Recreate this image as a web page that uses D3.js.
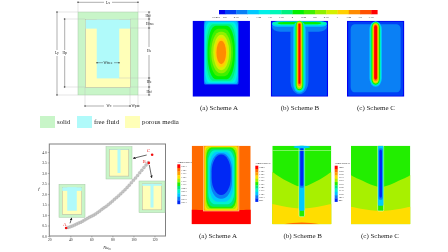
<!DOCTYPE html>
<html>
  <head>
    <meta charset="utf-8">
    <title>Schemes A, B and C</title>
    <script src="https://cdn.jsdelivr.net/npm/d3@7"></script>
    <style>
      html, body { margin: 0; padding: 0; background: #fff; overflow: hidden; }
      svg { display: block; filter: blur(.4px); }
      text { font-family: "Liberation Serif", serif; fill: #222; }
    </style>
  </head>

  <body>
    <div id="chart"></div>

    <script>
      // scatter data
      const curveNu = [38, 40, 42, 44, 46, 48, 50, 52, 54, 56, 58, 60, 62, 64, 66, 68, 70, 72, 74, 76, 78, 80, 82, 84, 86, 88, 90, 92, 94, 96, 98, 100, 102, 104, 106, 108, 110, 112, 114];
      const curveF = [.41, .44, .48, .52, .57, .62, .66, .71, .77, .83, .89, .94, .99, 1.05, 1.12, 1.19, 1.27, 1.34, 1.41, 1.49, 1.57, 1.66, 1.75, 1.83, 1.92, 2.01, 2.11, 2.2, 2.31, 2.42, 2.54, 2.65, 2.76, 2.88, 3.01, 3.13, 3.26, 3.38, 3.49];
      const schemeNames = ["A", "B", "C"];
      const schemeNu = [36, 114.6, 117.8];
      const schemeF = [.38, 3.48, 3.87];
      const nuTicks = [20, 40, 60, 80, 100, 120];
      const fTicks = [0, .5, 1, 1.5, 2, 2.5, 3, 3.5, 4];

      // colour bars
      const velocityTicks = [.5, .75, 1, 1.25, 1.5, 1.75, 2, 2.25, 2.5, 2.75, 3, 3.25, 3.5, 3.75];
      const velocityColours = ["#0000f0", "#0040f5", "#0a80f5", "#00c8ff", "#00f0e8", "#00f8b8", "#00f080", "#00f000", "#40f000", "#90f000", "#d4f000", "#ffd000", "#ff8c00", "#ff5000", "#ff0000"];
      const temperatureColours = ["#0028f5", "#0a7cf5", "#00c8ff", "#00f0d0", "#00e878", "#22ee00", "#a8f000", "#ffdd00", "#ffa000", "#ff6a00", "#ff0000"];
      const temperatureLabelsA = ["1213", "1193", "1173", "1153", "1133", "1113", "1093", "1073", "1053", "1033", "1013"];
      const temperatureLabelsB = ["1203", "1193", "1183", "1173", "1163", "1153", "1143", "1133", "1123", "1013", "997"];
      const temperatureLabelsC = ["1203", "1193", "1183", "1173", "1163", "1153", "1143", "1133", "1123", "1013", "997"];

      // contour bands, each [colour level, half width, top, bottom, rounding]
      const velocityBandsA = [[0, 28.7, 0, 76, 0], [2, 17.3, 0, 63.7, .05], [3, 16.8, .6, 63, .12], [4, 16.1, 1.5, 62, .25], [5, 15.4, 2.5, 61, .35], [6, 14.6, 3.5, 60, .45], [7, 13.6, 5, 58.5, .6], [8, 11.8, 8, 55.5, .75], [9, 10, 11, 52.5, .9], [10, 8, 14, 49.5, 1], [11, 6.2, 17, 46.5, 1], [12, 4.8, 20, 43.5, 1]];
      const velocityBandsB = [[0, 28.7, 0, 76, 0], [1, 27.5, 1, 75, .02], [2, 27.5, .8, 11, .3], [2, 9, 0, 73.5, 1], [3, 27.5, .8, 6, .2], [5, 27, .8, 4.5, .2], [7, 22, 1.2, 3.6, .3], [3, 6.2, 0, 72, 1], [5, 5, 0, 70.5, 1], [7, 3.8, 0, 69.5, 1], [9, 3, .5, 68.5, 1], [11, 2.2, 1.5, 67, 1], [12, 1.7, 2, 65.5, 1], [14, 1, 3, 63, .5]];
      const velocityBandsC = [[0, 28.7, 0, 76, 0], [1, 27.5, 1, 75, .03], [2, 25, 3.5, 71.5, .15], [3, 6.2, .5, 66, 1], [5, 5.2, 1, 65, 1], [7, 4.2, 1.5, 64, 1], [9, 3.4, 2, 63, 1], [11, 2.7, 3, 62, 1], [12, 2.1, 3.5, 60.5, 1], [14, 1.5, 4.5, 59, 1]];
      const temperatureBandsA = [[8, 17.7, 0, 65.3, 0], [7, 16.6, .5, 64.5, .1], [6, 15.8, 1.2, 63.5, .2], [5, 15, 1.8, 62.5, .35], [4, 14, 3, 61, .4], [3, 13, 4.5, 58.5, .5], [2, 12, 6, 56, .7], [1, 10.8, 7.5, 53, .9], [0, 9.5, 8.7, 49.3, 1]];
      const temperatureBandsB = [[5, 2.8, 0, 71, .4], [2, 2.6, 0, 65, .4], [1, 1.9, 1.5, 42, .4], [0, 1.5, 2, 40, .6]];
      const temperatureBandsC = [[5, 3, 0, 65.3, .3], [2, 2.7, 0, 60, .3], [1, 2, 2.5, 54, .6], [0, 1.3, 4, 52, 1]];

      // isotherms, each [x, y] across the panel
      const isothermRedA = [[-30, 64], [-15, 64.6], [0, 65.3], [15, 64.6], [30, 64]];
      const isothermTopB = [[-30, 26], [-22, 31.5], [-14, 36], [-6, 40], [0, 41.7], [6, 40], [14, 36], [22, 31.5], [30, 26]];
      const isothermLowB = [[-30, 58.3], [-20, 60.5], [-10, 62.2], [0, 63], [10, 62.2], [20, 60.5], [30, 58.3]];
      const isothermHotB = [[-18, 78.6], [-9, 77.3], [0, 76.6], [9, 77.3], [18, 78.6]];
      const isothermTopC = [[-30, 29.3], [-22, 33.5], [-14, 37], [-6, 40.4], [0, 41.7], [6, 40.4], [14, 37], [22, 33.5], [30, 29.3]];
      const isothermLowC = [[-30, 61], [-20, 63], [-10, 64.6], [0, 65.3], [10, 64.6], [20, 63], [30, 61]];

      // cavity layout, [wall, inner width, inner height, stem width, stem height, cap height]
      const layoutA = [7.5, 45, 68, 22, 59, 9];
      const layoutB = [7.5, 45, 68, 7, 62, 5];
      const layoutC = [7.5, 45, 68, 7, 60, 1];

      const legendNames = ["solid", "free fluid", "porous media"];
      const legendColours = ["#c8f5c8", "#b0fafa", "#ffffb8"];

      const svg = d3.select("#chart")
        .append("svg")
          .attr("width", 448)
          .attr("height", 252);

      function txt(x, y, label, size, anchor) {
        return svg.append("text")
          .attr("x", x)
          .attr("y", y)
          .attr("font-size", size)
          .attr("text-anchor", anchor || "middle")
          .text(label);
      }

      // draws the schematic cavity inside the pixel box x0..x1, y0..y1
      function drawCavity(x0, x1, y0, y1, layout) {
        let [wall, innerW, innerH, stemW, stemH, capH] = layout;
        let totalW = innerW + wall * 2;
        let totalH = innerH + wall * 2;
        let x = d3.scaleLinear().domain([0, totalW]).range([x0, x1]);
        let y = d3.scaleLinear().domain([0, totalH]).range([y0, y1]);
        let box = function(a, b, c, d, fill, stroke) {
          svg.append("rect")
            .attr("x", x(a))
            .attr("y", y(c))
            .attr("width", x(b) - x(a))
            .attr("height", y(d) - y(c))
            .attr("fill", fill)
            .attr("stroke", stroke || "none")
            .attr("stroke-width", .5);
        };
        let mid = totalW / 2;
        box(0, totalW, 0, totalH, legendColours[0], "#a8c8a8");
        box(wall, wall + innerW, wall, wall + innerH, legendColours[2], "#b8b0a0");
        box(wall, wall + innerW, wall, wall + capH, legendColours[1]);
        box(mid - stemW / 2, mid + stemW / 2, wall, wall + stemH, legendColours[1]);
      }

      function drawSchematic() {
        drawCavity(78, 138, 12, 95, [7.7, 44.6, 68, 22.5, 59, 9]);

        // dimension lines
        let grey = "#bbb";
        let dark = "#333";
        let hLine = function(x1, x2, y, colour) {
          svg.append("line").attr("x1", x1).attr("x2", x2).attr("y1", y).attr("y2", y)
            .attr("stroke", colour || dark).attr("stroke-width", .4);
        };
        let vLine = function(y1, y2, x, colour) {
          svg.append("line").attr("x1", x).attr("x2", x).attr("y1", y1).attr("y2", y2)
            .attr("stroke", colour || dark).attr("stroke-width", .4);
        };
        [[56, 78, 12], [63, 85, 19], [56, 78, 95], [63, 85, 87], [130, 151, 28], [119, 151, 78], [130, 151, 87], [138, 151, 95], [138, 151, 12], [130, 151, 19]]
          .forEach(function(d) { hLine(d[0], d[1], d[2], grey); });
        [[1, 12, 78], [1, 12, 138], [87, 107, 85], [87, 107, 130], [95, 107, 138]]
          .forEach(function(d) { vLine(d[0], d[1], d[2], grey); });
        hLine(78, 104, 2.3);
        hLine(112, 138, 2.3);
        vLine(12, 50, 57);
        vLine(56, 95, 57);
        vLine(19, 50, 64.7);
        vLine(56, 87, 64.7);
        vLine(12, 47, 149);
        vLine(55, 95, 149);
        hLine(85, 104, 106);
        hLine(113, 130, 106);
        hLine(130, 131, 106);
        hLine(137, 140, 106);
        hLine(97, 103, 62.7);
        hLine(114, 119, 62.7);
        [[57, 12], [57, 95], [64.7, 19], [64.7, 87], [149, 12], [149, 19], [149, 28], [149, 78], [149, 87], [149, 95], [78, 2.3], [138, 2.3], [85, 106], [130, 106], [138, 106], [97, 62.7], [119, 62.7]]
          .forEach(function(d) {
            svg.append("circle").attr("cx", d[0]).attr("cy", d[1]).attr("r", .7).attr("fill", dark);
          });

        txt(108, 3.5, "Lx", 3.6);
        txt(57, 54, "Ly", 3.6);
        txt(64.7, 54, "Hp", 3.6);
        txt(108, 64, "Wfree", 3.6);
        txt(109, 107.2, "Wc", 3.6);
        txt(134, 107.2, "Wp", 3.6);
        txt(148, 16.5, "Hsf", 3.6);
        txt(150, 24.5, "Hfree", 3.6);
        txt(149, 52, "Hs", 3.6);
        txt(149, 83, "Hb", 3.6);
        txt(149, 92.5, "Hsf", 3.6);

        // legend
        let legendX = d3.scaleOrdinal().domain(legendNames).range([40, 77, 125]);
        legendNames.forEach(function(name, i) {
          svg.append("rect")
            .attr("x", legendX(name))
            .attr("y", 116)
            .attr("width", 15)
            .attr("height", 12)
            .attr("fill", legendColours[i]);
          txt(legendX(name) + 17, 124, name, 6.8, "start");
        });
      }

      function drawScatter() {
        let x = d3.scaleLinear().domain([20, 130.5]).range([49.3, 165.5]);
        let y = d3.scaleLinear().domain([0, 4.38]).range([236, 144]);

        svg.append("rect")
          .attr("x", x.range()[0])
          .attr("y", y.range()[1])
          .attr("width", x.range()[1] - x.range()[0])
          .attr("height", y.range()[0] - y.range()[1])
          .attr("fill", "#fff")
          .attr("stroke", "#808080")
          .attr("stroke-width", 1);

        let xAxis = svg.append("g")
          .attr("transform", "translate(0,236)")
          .call(d3.axisBottom(x).tickValues(nuTicks).tickSize(1.5).tickPadding(1).tickFormat(d3.format("d")));
        let yAxis = svg.append("g")
          .attr("transform", "translate(49.3,0)")
          .call(d3.axisLeft(y).tickValues(fTicks).tickSize(1.5).tickPadding(1).tickFormat(d3.format(".1f")));
        [xAxis, yAxis].forEach(function(axis) {
          axis.select(".domain").remove();
          axis.selectAll("line").attr("stroke", "#555").attr("stroke-width", .4);
          axis.selectAll("text").attr("font-size", 3.6).attr("font-family", "Liberation Serif");
        });

        // insets
        drawCavity(59, 85, 184.3, 217.3, layoutA);
        drawCavity(106, 132, 146.7, 179, layoutC);
        drawCavity(139, 165, 181, 212.7, layoutB);

        // curve of grey markers
        svg.append("g")
          .selectAll("circle")
          .data(curveNu)
          .enter().append("circle")
            .attr("cx", function(d) { return x(d); })
            .attr("cy", function(d, i) { return y(curveF[i]); })
            .attr("r", 1.5)
            .attr("fill", "#c4c4c4")
            .attr("stroke", "#999")
            .attr("stroke-width", .3);

        // arrows
        svg.append("defs").append("marker")
          .attr("id", "head")
          .attr("viewBox", "0 0 6 6")
          .attr("refX", 5)
          .attr("refY", 3)
          .attr("markerWidth", 4)
          .attr("markerHeight", 4)
          .attr("orient", "auto")
          .append("path")
            .attr("d", "M0,0L6,3L0,6Z")
            .attr("fill", "#222");
        [[70, 223.3, 71.7, 218], [146.7, 155, 133.3, 158.3], [149.3, 165, 151.7, 177.7]].forEach(function(d) {
          svg.append("line")
            .attr("x1", d[0]).attr("y1", d[1]).attr("x2", d[2]).attr("y2", d[3])
            .attr("stroke", "#222")
            .attr("stroke-width", .7)
            .attr("marker-end", "url(#head)");
        });

        // the three schemes
        let offsets = { A: [-1.3, -2], B: [-4.6, -.2], C: [-3.7, -2.6] };
        schemeNames.forEach(function(name, i) {
          svg.append("circle")
            .attr("cx", x(schemeNu[i]))
            .attr("cy", y(schemeF[i]))
            .attr("r", 1.3)
            .attr("fill", "#f01010");
          txt(x(schemeNu[i]) + offsets[name][0], y(schemeF[i]) + offsets[name][1], name, 5)
            .style("fill", "#e83030");
        });

        txt(107, 248.5, "Nu", 4.4).attr("font-style", "italic")
          .append("tspan").attr("font-size", 3).attr("dy", 1).text("m");
        txt(39, 190, "f", 5).attr("font-style", "italic");
      }

      // one contour panel, bands and isotherms in panel units
      function drawPanel(left, width, top, height, colours, base, isotherms, bands, outline, stretch) {
        let x = d3.scaleLinear().domain([-width / 2, width / 2]).range([left, left + width]);
        let y = d3.scaleLinear().domain([0, height]).range([top, top + height]);
        let clipId = "clip" + Math.round(left) + Math.round(top);
        svg.append("clipPath").attr("id", clipId)
          .append("rect")
            .attr("x", left).attr("y", top).attr("width", width).attr("height", height);
        let g = svg.append("g").attr("clip-path", "url(#" + clipId + ")");

        if (base !== null) {
          g.append("rect")
            .attr("x", left).attr("y", top).attr("width", width).attr("height", height)
            .attr("fill", colours[base]);
        }

        let area = d3.area()
          .x(function(d) { return x(d[0]); })
          .y0(y(height))
          .y1(function(d) { return y(d[1]); })
          .curve(d3.curveBasis);
        isotherms.forEach(function(d) {
          g.append("path").attr("d", area(d.points)).attr("fill", colours[d.level]);
        });

        bands.forEach(function(b, i) {
          let halfW = x(b[1]) - x(0);
          g.append("rect")
            .attr("x", x(-b[1]))
            .attr("y", y(b[2]))
            .attr("width", halfW * 2)
            .attr("height", y(b[3]) - y(b[2]))
            .attr("rx", halfW * b[4])
            .attr("ry", halfW * b[4] * (stretch || 1.4))
            .attr("fill", colours[b[0]])
            .attr("stroke", outline && i == 0 ? outline : "none")
            .attr("stroke-width", .6);
        });
      }

      function drawVelocityBar() {
        let x = d3.scaleLinear().domain([.5, 3.75]).range([225, 371.3]);
        velocityColours.forEach(function(colour, i) {
          let a = i == 0 ? x(.5) - 6 : x(velocityTicks[i - 1]);
          let b = i == velocityTicks.length ? x(3.75) + 6 : x(velocityTicks[i]);
          svg.append("rect")
            .attr("x", a).attr("y", 10).attr("width", b - a + .3).attr("height", 4.3)
            .attr("fill", colour);
        });
        velocityTicks.forEach(function(d) {
          txt(x(d), 18, d3.format("")(d), 2.8);
        });
        txt(216, 18, "v*/m/s", 2.8);
      }

      function drawTemperatureBar(left, top, height, labels) {
        let y = d3.scaleBand().domain(labels).range([top, top + height]);
        labels.forEach(function(label, i) {
          svg.append("rect")
            .attr("x", left).attr("y", y(label)).attr("width", 3).attr("height", y.bandwidth() + .2)
            .attr("fill", temperatureColours[temperatureColours.length - 1 - i]);
          txt(left + 4, y(label) + y.bandwidth() / 2 + 1, label, 2.6, "start");
        });
        txt(left, top - 1.6, "Temperature/K", 2.6, "start");
      }

      drawSchematic();
      drawScatter();

      // velocity row
      drawVelocityBar();
      drawPanel(192.5, 57.5, 20.7, 76, velocityColours, null, [], velocityBandsA, null, 3);
      drawPanel(270.7, 57.5, 20.7, 76, velocityColours, null, [], velocityBandsB);
      drawPanel(346.9, 57.5, 20.7, 76, velocityColours, null, [], velocityBandsC);
      txt(219, 110, "(a) Scheme A", 7);
      txt(300, 110, "(b) Scheme B", 7);
      txt(376, 110, "(c) Scheme C", 7);

      // temperature row
      drawTemperatureBar(177.3, 164.3, 39.7, temperatureLabelsA);
      drawTemperatureBar(255.3, 165.7, 36, temperatureLabelsB);
      drawTemperatureBar(334.7, 165.7, 36, temperatureLabelsC);
      drawPanel(191.7, 59, 145.7, 78.6, temperatureColours, 9, [{ level: 10, points: isothermRedA }], temperatureBandsA, "#ffd8a0", 1.8);
      drawPanel(272.3, 59, 145.7, 78.6, temperatureColours, 5, [{ level: 6, points: isothermTopB }, { level: 7, points: isothermLowB }, { level: 9, points: isothermHotB }], temperatureBandsB, "#e8ffd0");
      svg.append("rect").attr("x", 272.3).attr("y", 150).attr("width", 59).attr("height", .6).attr("fill", "#b8f8a0");
      svg.append("ellipse").attr("cx", 301.8).attr("cy", 147).attr("rx", 8.5).attr("ry", 1.3).attr("fill", temperatureColours[2]);
      drawPanel(351, 59.3, 145.7, 78.6, temperatureColours, 5, [{ level: 6, points: isothermTopC }, { level: 7, points: isothermLowC }], temperatureBandsC, "#e8ffd0");
      txt(218, 238, "(a) Scheme A", 7);
      txt(302.7, 238, "(b) Scheme B", 7);
      txt(380, 238, "(c) Scheme C", 7);
    </script>
  </body>
</html>
